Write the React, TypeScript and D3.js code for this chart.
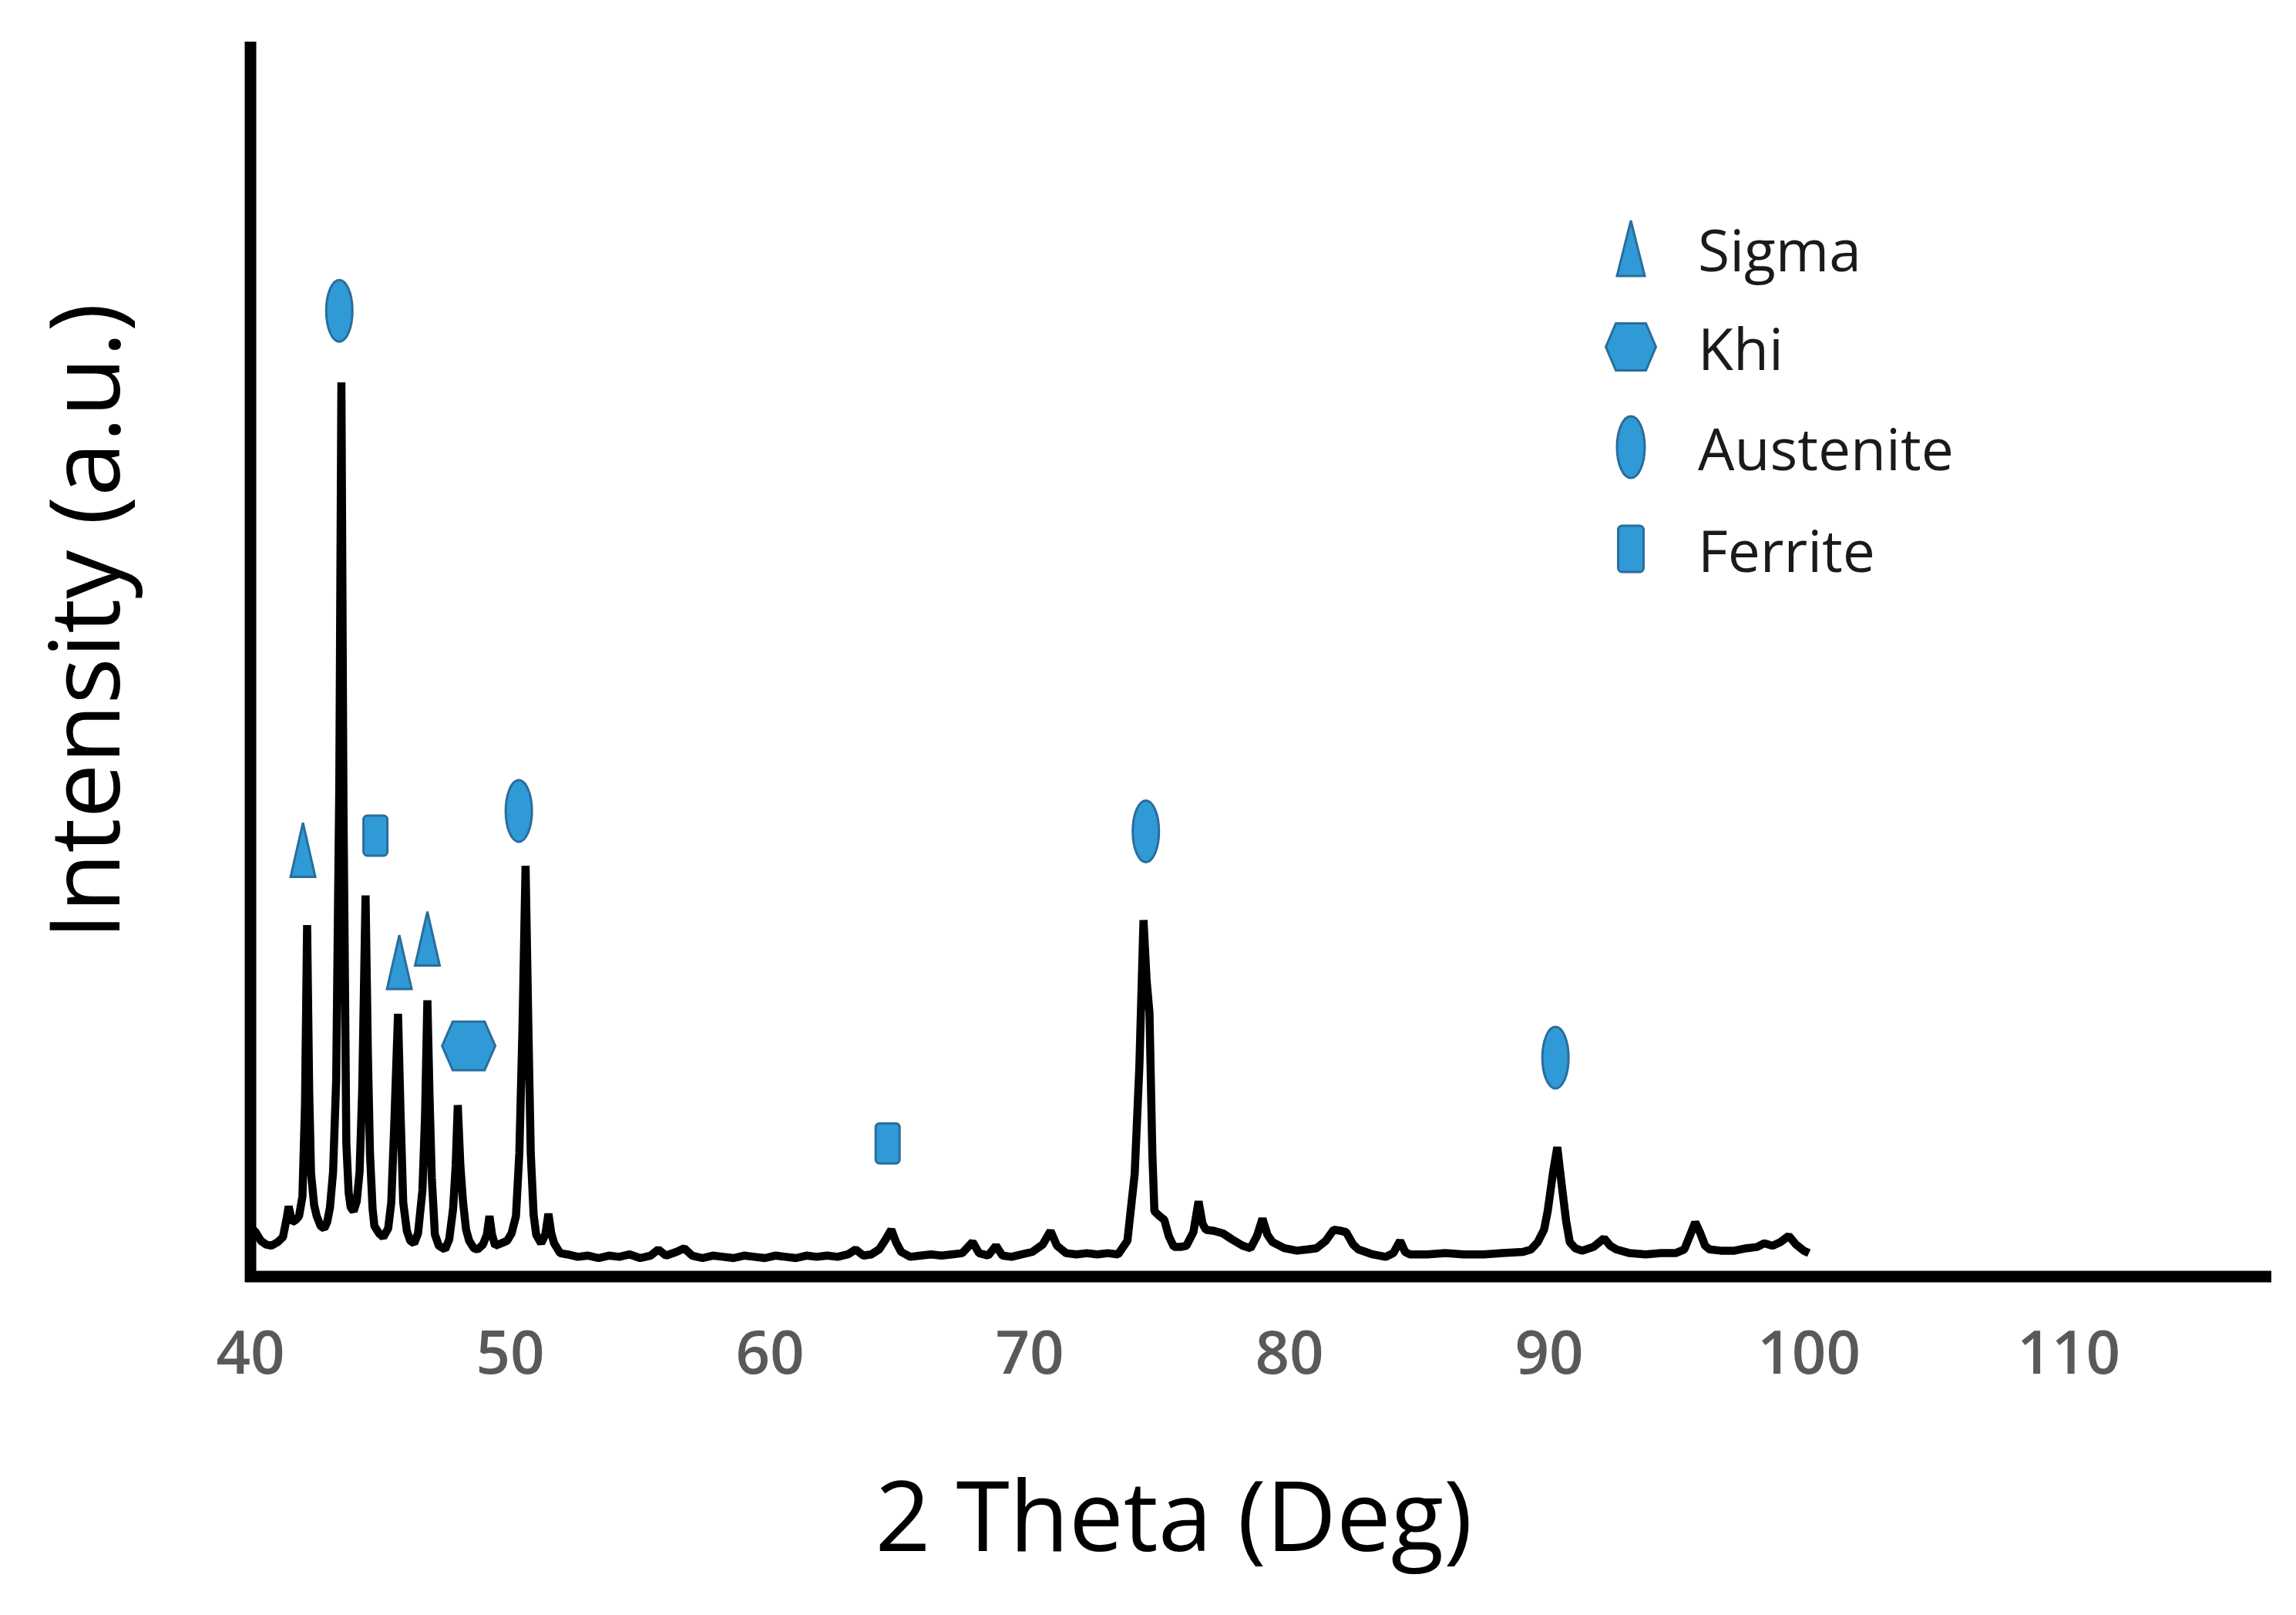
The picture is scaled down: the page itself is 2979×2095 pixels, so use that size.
import React from 'react';
import * as d3 from 'd3';

// XRD pattern (2 theta in degrees, intensity in a.u.)
const twoTheta = [
  40.0, 40.2, 40.4, 40.6, 40.8, 41.05, 41.25, 41.4, 41.47, 41.6, 41.75, 41.87, 42.0, 42.1, 42.18, 42.26, 42.33, 42.45, 42.55, 42.7,
  42.84, 42.95, 43.06, 43.18, 43.3, 43.42, 43.5, 43.58, 43.69, 43.78, 43.86, 43.97, 44.09, 44.2, 44.3, 44.43, 44.52, 44.6, 44.7, 44.77,
  44.95, 45.11, 45.3, 45.42, 45.53, 45.68, 45.78, 45.88, 46.02, 46.15, 46.3, 46.45, 46.62, 46.72, 46.81, 46.9, 46.98, 47.1, 47.25, 47.49,
  47.65, 47.8, 47.9, 47.98, 48.08, 48.18, 48.3, 48.42, 48.6, 48.74, 48.95, 49.1, 49.2, 49.3, 49.42, 49.65, 49.88, 50.05, 50.22, 50.35,
  50.47, 50.59, 50.7, 50.79, 50.9, 51.0, 51.19, 51.35, 51.47, 51.58, 51.69, 51.92, 52.2, 52.6, 53.0, 53.4, 53.8, 54.2, 54.6, 55.0,
  55.4, 55.7, 56.0, 56.4, 56.7, 57.0, 57.4, 57.8, 58.2, 58.6, 59.0, 59.4, 59.8, 60.2, 60.6, 61.0, 61.4, 61.8, 62.2, 62.6,
  63.0, 63.3, 63.6, 63.9, 64.2, 64.45, 64.67, 64.85, 65.05, 65.4, 65.8, 66.2, 66.6, 67.0, 67.4, 67.8, 68.05, 68.4, 68.7, 68.95,
  69.3, 69.7, 70.1, 70.5, 70.8, 71.05, 71.4, 71.8, 72.2, 72.6, 73.0, 73.4, 73.76, 74.04, 74.22, 74.38, 74.5, 74.61, 74.72, 74.8,
  75.0, 75.18, 75.35, 75.55, 75.8, 76.03, 76.3, 76.5, 76.65, 76.78, 77.1, 77.44, 77.8, 78.2, 78.5, 78.75, 78.96, 79.15, 79.34, 79.8,
  80.29, 80.7, 81.04, 81.4, 81.7, 82.0, 82.18, 82.45, 82.65, 83.2, 83.7, 84.0, 84.26, 84.45, 84.63, 85.3, 86.0, 86.7, 87.48, 88.2,
  88.99, 89.3, 89.56, 89.8, 89.94, 90.15, 90.31, 90.42, 90.5, 90.65, 90.79, 91.0, 91.26, 91.7, 92.11, 92.35, 92.58, 93.1, 93.71, 94.3,
  94.86, 95.2, 95.45, 95.62, 95.8, 96.0, 96.18, 96.6, 97.13, 97.6, 98.0, 98.27, 98.6, 98.9, 99.22, 99.5, 99.8, 100.0
];
const intensity = [
  4.0, 3.6, 2.9, 2.6, 2.5, 2.8, 3.2, 4.8, 5.7, 4.4, 4.6, 4.9, 6.5, 14, 28.5, 15, 8.4, 5.8, 4.9, 4.1,
  3.9, 4.4, 5.6, 8.5, 16, 40, 72.5, 38, 10.8, 6.8, 5.6, 5.3, 6.1, 8.5, 15, 30.9, 18, 10, 5.5, 4.1,
  3.5, 3.2, 3.9, 6, 12, 21.3, 13, 6, 3.7, 2.9, 2.7, 3.5, 7, 13, 22.4, 14, 8, 3.4, 2.5, 2.2,
  3.0, 5.5, 9, 13.9, 9, 6.1, 3.8, 2.9, 2.3, 2.2, 2.6, 3.4, 4.9, 3.4, 2.5, 2.7, 2.9, 3.5, 4.9, 10,
  20, 33.3, 20, 10, 5, 3.4, 2.7, 3.4, 5.1, 3.5, 2.7, 1.9, 1.8, 1.6, 1.7, 1.5, 1.7, 1.6, 1.8, 1.5,
  1.7, 2.2, 1.7, 2.0, 2.3, 1.7, 1.5, 1.7, 1.6, 1.5, 1.7, 1.6, 1.5, 1.7, 1.6, 1.5, 1.7, 1.6, 1.7, 1.6,
  1.8, 2.2, 1.7, 1.8, 2.2, 3.0, 3.8, 2.8, 2.0, 1.6, 1.7, 1.8, 1.7, 1.8, 1.9, 2.8, 1.9, 1.7, 2.5, 1.7,
  1.6, 1.8, 2.0, 2.6, 3.7, 2.5, 1.9, 1.8, 1.9, 1.8, 1.9, 1.8, 2.9, 8.3, 17, 28.9, 24, 21.4, 10, 5.3,
  4.9, 4.6, 3.3, 2.4, 2.4, 2.5, 3.6, 6.1, 4.3, 3.8, 3.7, 3.5, 3.0, 2.5, 2.3, 3.3, 4.7, 3.4, 2.8, 2.3,
  2.1, 2.2, 2.3, 2.9, 3.8, 3.7, 3.6, 2.6, 2.2, 1.8, 1.6, 1.9, 2.9, 2.0, 1.8, 1.8, 1.9, 1.8, 1.8, 1.9,
  2.0, 2.2, 2.8, 3.8, 5.3, 8.5, 10.5, 8.5, 7.1, 4.5, 2.8, 2.3, 2.1, 2.4, 3.1, 2.5, 2.2, 1.9, 1.8, 1.9,
  1.9, 2.2, 3.5, 4.4, 3.6, 2.5, 2.2, 2.1, 2.1, 2.3, 2.4, 2.7, 2.5, 2.8, 3.3, 2.6, 2.1, 1.9
];

const xTicks = [40, 50, 60, 70, 80, 90, 100, 110];

// phase labels placed above the peaks
const markerPhase = ['Austenite', 'Sigma', 'Ferrite', 'Sigma', 'Sigma', 'Khi', 'Austenite', 'Ferrite', 'Austenite', 'Austenite'];
const markerTheta = [43.42, 42.02, 44.81, 45.73, 46.81, 48.4, 50.33, 64.53, 74.47, 90.24];
const markerLevel = [78.3, 34.6, 35.75, 25.5, 27.4, 18.7, 37.75, 10.8, 36.1, 17.75];

const legendNames = ['Sigma', 'Khi', 'Austenite', 'Ferrite'];

const width = 2979;
const height = 2095;
const fill = '#2f9ad6';
const edge = '#2a6d9c';
const font = '"Open Sans", "Noto Sans", sans-serif';

function Marker({ phase, cx, cy, big }: { phase: string; cx: number; cy: number; big?: boolean }) {
  const common = { fill: fill, stroke: edge, strokeWidth: 3 };
  if (phase === 'Sigma') {
    const w = big ? 36 : 32, h = big ? 72 : 70;
    return <path d={`M${cx},${cy - h / 2}L${cx + w / 2},${cy + h / 2}L${cx - w / 2},${cy + h / 2}Z`} {...common} />;
  }
  if (phase === 'Khi') {
    const w = big ? 65 : 69, h = big ? 61 : 63;
    const pts = [
      [cx - w / 2, cy], [cx - w * 0.3, cy - h / 2], [cx + w * 0.3, cy - h / 2],
      [cx + w / 2, cy], [cx + w * 0.3, cy + h / 2], [cx - w * 0.3, cy + h / 2]
    ];
    return <path d={'M' + pts.map(p => p.join(',')).join('L') + 'Z'} {...common} />;
  }
  if (phase === 'Austenite') {
    return <ellipse cx={cx} cy={cy} rx={big ? 18 : 17} ry={40} {...common} />;
  }
  const w = big ? 33 : 31, h = big ? 60 : 52;
  return <rect x={cx - w / 2} y={cy - h / 2} width={w} height={h} rx={5} {...common} />;
}

export default function App() {
  const x = d3.scaleLinear().domain([40, 117.8]).range([325, 2947]);
  const y = d3.scaleLinear().domain([0, 100]).range([1656, 56]);

  const points: [number, number][] = twoTheta.map((t, i) => [t, intensity[i]]);
  const line = d3.line<[number, number]>()
    .x(d => x(d[0]))
    .y(d => y(d[1]));

  const legendRows = [322, 450, 580, 712];

  return (
    <svg width={width} height={height} style={{ position: 'absolute', left: 0, top: 0, background: '#fff' }}>
      {/* spectrum */}
      <path d={line(points) || ''} fill="none" stroke="#000" strokeWidth={10.5} strokeLinejoin="bevel" />

      {/* axes */}
      <line x1={x(40)} x2={x(40)} y1={y(100) - 2} y2={y(0) + 7} stroke="#000" strokeWidth={15} />
      <line x1={x(40) - 7} x2={x(117.8)} y1={y(0)} y2={y(0)} stroke="#000" strokeWidth={15} />

      {xTicks.map(t => (
        <text key={t} x={x(t)} y={1782} textAnchor="middle" fontFamily={font} fontSize={78}
          fontWeight={600} fill="#595959">{t}</text>
      ))}

      <text x={1523} y={2012} textAnchor="middle" fontFamily={font} fontSize={126} fill="#000">2 Theta (Deg)</text>
      <text transform="translate(155,806) rotate(-90)" textAnchor="middle" fontFamily={font} fontSize={126} fill="#000">
        Intensity (a.u.)
      </text>

      {/* phase markers */}
      {markerPhase.map((p, i) => (
        <Marker key={i} phase={p} cx={x(markerTheta[i])} cy={y(markerLevel[i])} />
      ))}

      {/* legend */}
      {legendNames.map((name, i) => (
        <g key={name}>
          <Marker phase={name} cx={2116} cy={legendRows[i]} big />
          <text x={2203} y={legendRows[i] + 30} fontFamily={font} fontSize={75} fill="#1a1a1a">{name}</text>
        </g>
      ))}
    </svg>
  );
}
